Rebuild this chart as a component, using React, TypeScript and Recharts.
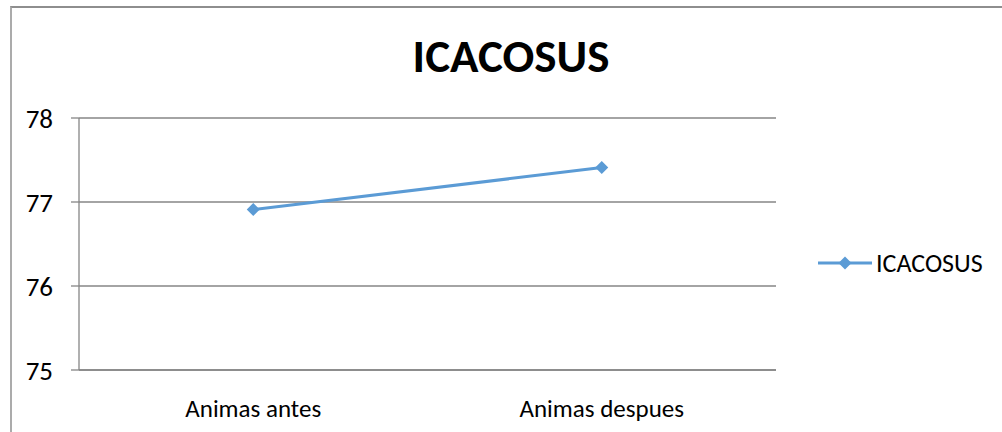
import { LineChart, Line, XAxis, YAxis, CartesianGrid, Legend } from "recharts";

const categories = ["Animas antes", "Animas despues"];
const icacosus = [76.91, 77.41];
const yTicks = [75, 76, 77, 78];
const categoryEdges = [0, 1, 2];

const data = categories.map((name, i) => ({ name, ICACOSUS: icacosus[i] }));

const BLUE = "#5b9bd5";
const GRID = "#868686";
const FONT = "Carlito, Calibri, Lato, sans-serif";

function Diamond({ cx, cy }: { cx?: number; cy?: number }) {
  if (cx == null || cy == null) return null;
  const r = 6.5;
  return (
    <polygon
      points={`${cx},${cy - r} ${cx + r},${cy} ${cx},${cy + r} ${cx - r},${cy}`}
      fill={BLUE}
    />
  );
}

function LegendContent({ payload }: any) {
  return (
    <div>
      {(payload || []).map((p: any) => (
        <div
          key={p.value}
          style={{ display: "flex", alignItems: "center", fontFamily: FONT, fontSize: 26, color: "#000" }}
        >
          <svg width={54} height={16}>
            <line x1={0} y1={8} x2={54} y2={8} stroke={BLUE} strokeWidth={3} />
            <polygon points="27,1.5 33.5,8 27,14.5 20.5,8" fill={BLUE} />
          </svg>
          <span style={{ marginLeft: 4 }}>{p.value}</span>
        </div>
      ))}
    </div>
  );
}

export default function App() {
  return (
    <div style={{ position: "absolute", left: 0, top: 0, width: 1002, height: 432, background: "#fff", overflow: "hidden" }}>
      <div
        style={{
          position: "absolute",
          left: 10,
          top: 6,
          width: 1000,
          height: 440,
          borderTop: "2px solid #8e8e8e",
          borderLeft: "2px solid #ababab",
        }}
      />
      <div
        style={{
          position: "absolute",
          left: 0,
          top: 33,
          width: 1022,
          textAlign: "center",
          fontFamily: FONT,
          fontWeight: 700,
          fontSize: 47,
          lineHeight: 1,
          color: "#000",
        }}
      >
        ICACOSUS
      </div>
      <div style={{ position: "absolute", left: 0, top: 0 }}>
        <LineChart width={1002} height={432} data={data} margin={{ top: 118, right: 226, bottom: 32, left: 19 }}>
          <CartesianGrid vertical={false} stroke={GRID} strokeWidth={1.3} />
          <XAxis
            xAxisId="edge"
            type="number"
            domain={[0, 2]}
            ticks={categoryEdges}
            height={0}
            axisLine={false}
            tickLine={{ stroke: GRID, strokeWidth: 1.3 }}
            tickSize={7}
            tick={() => <g />}
          />
          <XAxis
            xAxisId="cat"
            dataKey="name"
            scale="band"
            height={30}
            axisLine={{ stroke: GRID, strokeWidth: 1.3 }}
            tickLine={false}
            tickSize={0}
            tickMargin={29}
            tick={{ fill: "#000", fontSize: 25, fontFamily: FONT }}
          />
          <YAxis
            domain={[75, 78]}
            ticks={yTicks}
            width={60}
            axisLine={{ stroke: GRID, strokeWidth: 1.3 }}
            tickLine={{ stroke: GRID, strokeWidth: 1.3 }}
            tickSize={8}
            tickMargin={18}
            tick={{ fill: "#000", fontSize: 27, fontFamily: FONT }}
          />
          <Legend
            layout="vertical"
            align="center"
            verticalAlign="middle"
            content={<LegendContent />}
            wrapperStyle={{ left: 818, top: 247, width: 180 }}
          />
          <Line
            xAxisId="cat"
            type="linear"
            dataKey="ICACOSUS"
            stroke={BLUE}
            strokeWidth={3}
            dot={(props: any) => <Diamond key={props.index} cx={props.cx} cy={props.cy} />}
            activeDot={false}
            isAnimationActive={false}
          />
        </LineChart>
      </div>
    </div>
  );
}
